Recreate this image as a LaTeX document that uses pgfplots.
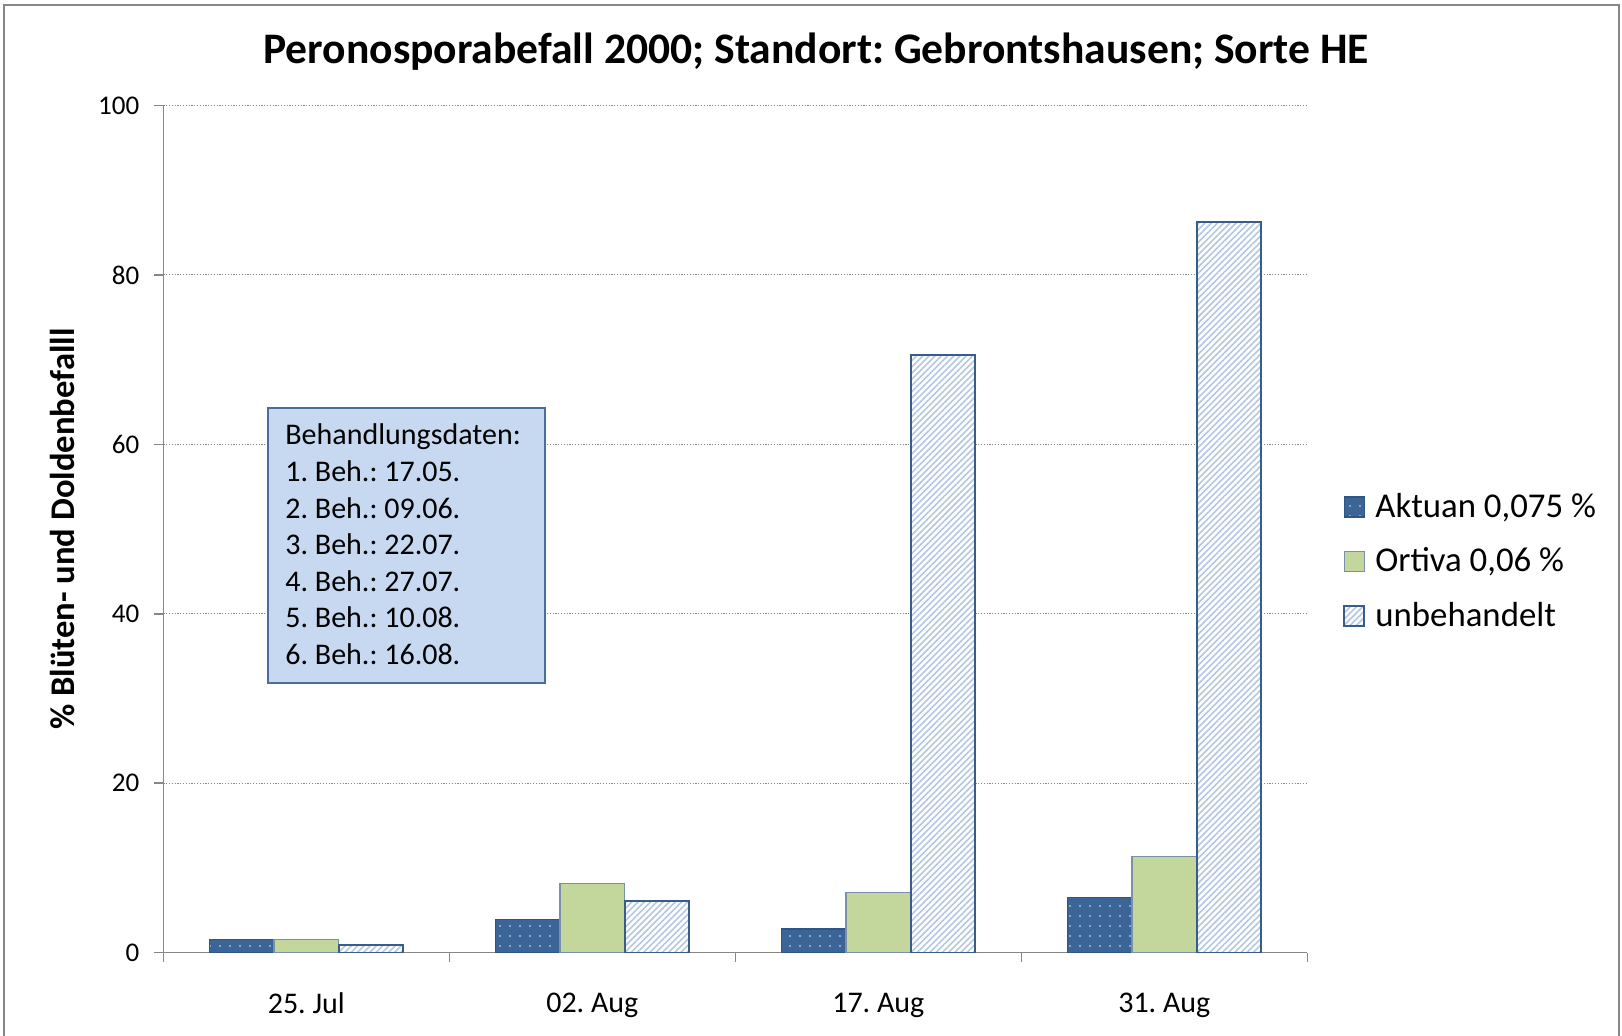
\documentclass[border=0pt]{standalone}
\usepackage{fontspec}
\setmainfont{Carlito}
\usepackage{pgfplots}
\pgfplotsset{compat=1.18}
\usetikzlibrary{patterns.meta}
\frenchspacing
\definecolor{aktfill}{HTML}{3B6497}
\definecolor{aktdraw}{HTML}{2F5584}
\definecolor{ortfill}{HTML}{C3D69B}
\definecolor{ortdraw}{HTML}{7A8FA8}
\definecolor{unbstripe}{HTML}{B4C8E2}
\definecolor{unbdraw}{HTML}{385D8A}
\definecolor{boxfill}{HTML}{C6D9F1}
\definecolor{boxdraw}{HTML}{4A6E9A}
\definecolor{axgray}{HTML}{878787}
\pgfplotsset{swatch/.style={legend image code/.code={\draw[##1] (0pt,-5pt) rectangle (10pt,5pt);}}}
\begin{document}
\frenchspacing
\begin{tikzpicture}[x=1pt,y=1pt]
\path[use as bounding box] (0,0) rectangle (811,518);
\draw[axgray, line width=1pt] (2,0) -- (2,515.5) -- (809.5,515.5) -- (809.5,0);
\node[anchor=base, font=\bfseries\fontsize{21.8}{26}\selectfont] at (408,486) {Peronosporabefall 2000; Standort: Gebrontshausen; Sorte HE};
\begin{axis}[
  at={(81.65pt,41.65pt)}, anchor=south west,
  scale only axis, width=572pt, height=423.6pt,
  ybar=0pt, bar width=32.25pt,
  xmin=-0.5, xmax=3.5, ymin=0, ymax=100,
  xtick={0,1,2,3}, xticklabels={25. Jul, 02. Aug, 17. Aug, 31. Aug},
  minor xtick={-0.5,0.5,1.5,2.5,3.5},
  major x tick style={draw=none},
  ytick={0,20,40,60,80,100},
  axis x line*=bottom, axis y line*=left,
  axis line style={-, axgray, line width=0.8pt},
  tick style={axgray, line width=0.8pt},
  tick align=outside,
  major tick length=4.5pt, minor tick length=4.5pt,
  ymajorgrids,
  grid style={axgray, dash pattern=on 0.6pt off 0.8pt, line width=0.5pt},
  /pgf/number format/assume math mode=true,
  yticklabel style={font=\fontsize{13.5}{15}\selectfont, text=black, xshift=-4pt},
  xticklabel style={font=\fontsize{15}{18}\selectfont, text=black, yshift=-12pt},
  ylabel={\%~Blüten- und Doldenbefalll},
  ylabel style={at={(axis description cs:-0.0881,0.5)}, anchor=center, font=\bfseries\fontsize{17.3}{20}\selectfont},
  legend style={at={(rel axis cs:1.0312,0.462)}, anchor=west, draw=none, fill=none,
    font=\fontsize{17.4}{20}\selectfont, row sep=9.6pt, inner sep=0pt,
    /tikz/every odd column/.append style={column sep=3pt}},
  legend cell align=left,
]
\addplot[fill=aktfill, draw=aktdraw, line width=0.6pt,
  postaction={pattern={Dots[distance=5pt, radius=0.45pt]}, pattern color=white!85!aktfill}, swatch]
  coordinates {(0,1.6) (1,3.9) (2,2.8) (3,6.5)};
\addplot[fill=ortfill, draw=ortdraw, line width=0.6pt, swatch]
  coordinates {(0,1.6) (1,8.2) (2,7.1) (3,11.4)};
\addplot[fill=white, draw=unbdraw, line width=1pt,
  postaction={pattern={Lines[angle=45, distance=2.2pt, line width=0.8pt]}, pattern color=unbstripe}, swatch]
  coordinates {(0,0.9) (1,6.1) (2,70.6) (3,86.2)};
\legend{{Aktuan 0,075 \%}, {Ortiva 0,06 \%}, {unbehandelt}}
\end{axis}
\draw[boxdraw, line width=1pt, fill=boxfill] (134.2,176.3) rectangle (272.5,313.8);
\foreach \t [count=\i from 0] in {Behandlungsdaten:, 1. Beh.: 17.05., 2. Beh.: 09.06., 3. Beh.: 22.07., 4. Beh.: 27.07., 5. Beh.: 10.08., 6. Beh.: 16.08.}
  \node[anchor=base west, inner sep=0pt, font=\fontsize{15}{18}\selectfont] at (142.5,295.5-18.3*\i) {\t};
\end{tikzpicture}
\end{document}
